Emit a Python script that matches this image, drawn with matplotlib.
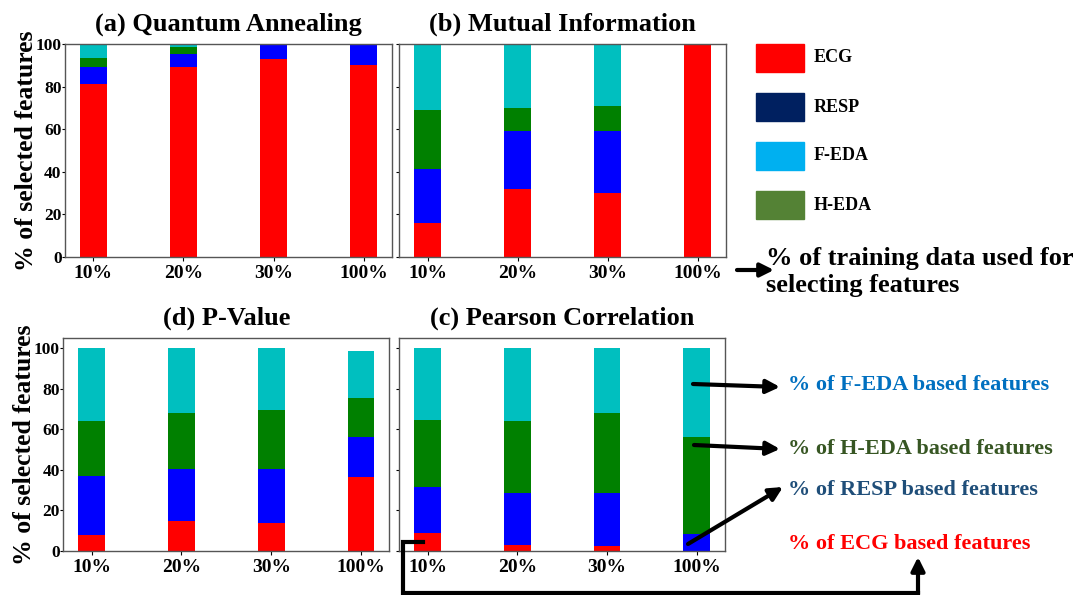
import numpy as np
import matplotlib.pyplot as plt
from matplotlib.lines import Line2D
from matplotlib.patches import Rectangle

plt.rcParams['font.family'] = ['Liberation Serif', 'DejaVu Serif']
plt.rcParams['font.weight'] = 'bold'

# Data: % of selected features per modality, per training-data split
splits = ['10%', '20%', '30%', '100%']

qa_ecg = [81, 89, 93, 90]
qa_resp = [8, 6.5, 7, 10]
qa_heda = [4.5, 3, 0, 0]
qa_feda = [6.5, 1.5, 0, 0]

mi_ecg = [15.7, 32, 30, 100]
mi_resp = [25.5, 27, 29, 0]
mi_heda = [27.8, 11, 12, 0]
mi_feda = [31, 30, 29, 0]

pv_ecg = [8, 14.7, 14, 36.7]
pv_resp = [29, 26, 26.7, 19.5]
pv_heda = [27, 27.6, 29, 19.2]
pv_feda = [36, 31.7, 30.3, 23.1]

pc_ecg = [9, 3, 2.5, 0]
pc_resp = [22.6, 25.6, 26.1, 8.3]
pc_heda = [32.9, 35.7, 39.5, 48.2]
pc_feda = [35.5, 35.7, 31.9, 43.5]

legend_names = ['ECG', 'RESP', 'F-EDA', 'H-EDA']
legend_colors = ['#ff0000', '#002060', '#00b0f0', '#548235']

note_texts = ['% of F-EDA based features', '% of H-EDA based features',
              '% of RESP based features', '% of ECG based features']
note_colors = ['#0070c0', '#375623', '#1f4e79', '#ff0000']

W, H = 1082, 595


def fp(x, y):
    # pixel position (from top-left) -> figure fraction
    return (x / W, 1 - y / H)


def draw_panel(rect, title, ecg, resp, heda, feda, ylim, show_yticklabels):
    ax = fig.add_axes(rect)
    x = np.arange(len(splits))
    w = 0.3
    ecg, resp, heda, feda = map(np.array, (ecg, resp, heda, feda))
    ax.bar(x, ecg, w, color='red')
    ax.bar(x, resp, w, bottom=ecg, color='blue')
    ax.bar(x, heda, w, bottom=ecg + resp, color='green')
    ax.bar(x, feda, w, bottom=ecg + resp + heda, color='c')
    ax.set_ylim(*ylim)
    ax.set_yticks([0, 20, 40, 60, 80, 100])
    ax.set_xticks(x)
    ax.set_xticklabels(splits, fontsize=14, fontweight='bold')
    if show_yticklabels:
        ax.set_yticklabels(['0', '20', '40', '60', '80', '100'],
                           fontsize=12.5, fontweight='bold')
        ax.set_ylabel('% of selected features', fontsize=18.5,
                      fontweight='bold')
        ax.yaxis.set_label_coords(-0.083, 0.5)
    else:
        ax.set_yticklabels([])
    ax.tick_params(axis='y', length=2, pad=0.5)
    ax.tick_params(axis='x', length=3, pad=3)
    for s in ax.spines.values():
        s.set_color('#555555')
        s.set_linewidth(1.0)
    ax.set_title(title, fontsize=19, fontweight='bold', pad=10)
    return ax


fig = plt.figure(figsize=(10.82, 5.95), dpi=100)

draw_panel([0.0601, 0.5686, 0.3022, 0.3575], '(a) Quantum Annealing',
           qa_ecg, qa_resp, qa_heda, qa_feda, (0, 100), True)
draw_panel([0.3690, 0.5686, 0.3020, 0.3575], '(b) Mutual Information',
           mi_ecg, mi_resp, mi_heda, mi_feda, (0, 100), False)
draw_panel([0.0585, 0.0740, 0.3013, 0.3575], '(d) P-Value',
           pv_ecg, pv_resp, pv_heda, pv_feda, (0, 105), True)
draw_panel([0.3690, 0.0740, 0.3010, 0.3575], '(c) Pearson Correlation',
           pc_ecg, pc_resp, pc_heda, pc_feda, (0, 105), False)

# Legend made of coloured boxes
for i, (name, col) in enumerate(zip(legend_names, legend_colors)):
    top = 44 + i * 49
    x0, y0 = fp(756, top + 28)
    fig.add_artist(Rectangle((x0, y0), 48 / W, 28 / H, color=col,
                             transform=fig.transFigure))
    fig.text(*fp(814, top + 14), name, fontsize=13, fontweight='bold',
             va='center', ha='left')

# x-axis explanation
fig.text(*fp(766, 272), '% of training data used for\nselecting features',
         fontsize=19, fontweight='bold', va='center', ha='left',
         linespacing=1.2)
arrow = dict(arrowstyle='-|>', color='black', lw=3, mutation_scale=20,
             shrinkA=0, shrinkB=0)
fig.add_artist(plt.Annotation('', xy=fp(774, 270), xytext=fp(737, 270),
                              xycoords='figure fraction',
                              textcoords='figure fraction',
                              arrowprops=arrow))

# Notes on the right
note_y = [385, 449, 490, 544]
for t, c, y in zip(note_texts, note_colors, note_y):
    fig.text(*fp(788, y), t, fontsize=16, fontweight='bold', color=c,
             va='center', ha='left')

starts = [(693, 384), (694, 445), (688, 544)]
ends = [(780, 387), (780, 449), (783, 487)]
for s, e in zip(starts, ends):
    fig.add_artist(plt.Annotation('', xy=fp(*e), xytext=fp(*s),
                                  xycoords='figure fraction',
                                  textcoords='figure fraction',
                                  arrowprops=arrow))

# ECG path from panel (c) to its note
path_x = [423, 403, 403, 918]
path_y = [542, 542, 593, 593]
fx = [p / W for p in path_x]
fy = [1 - p / H for p in path_y]
fig.add_artist(Line2D(fx, fy, color='black', lw=3,
                      transform=fig.transFigure, solid_joinstyle='miter'))
fig.add_artist(plt.Annotation('', xy=fp(918, 557), xytext=fp(918, 594),
                              xycoords='figure fraction',
                              textcoords='figure fraction',
                              arrowprops=arrow))

fig.savefig('out.png', dpi=100)
